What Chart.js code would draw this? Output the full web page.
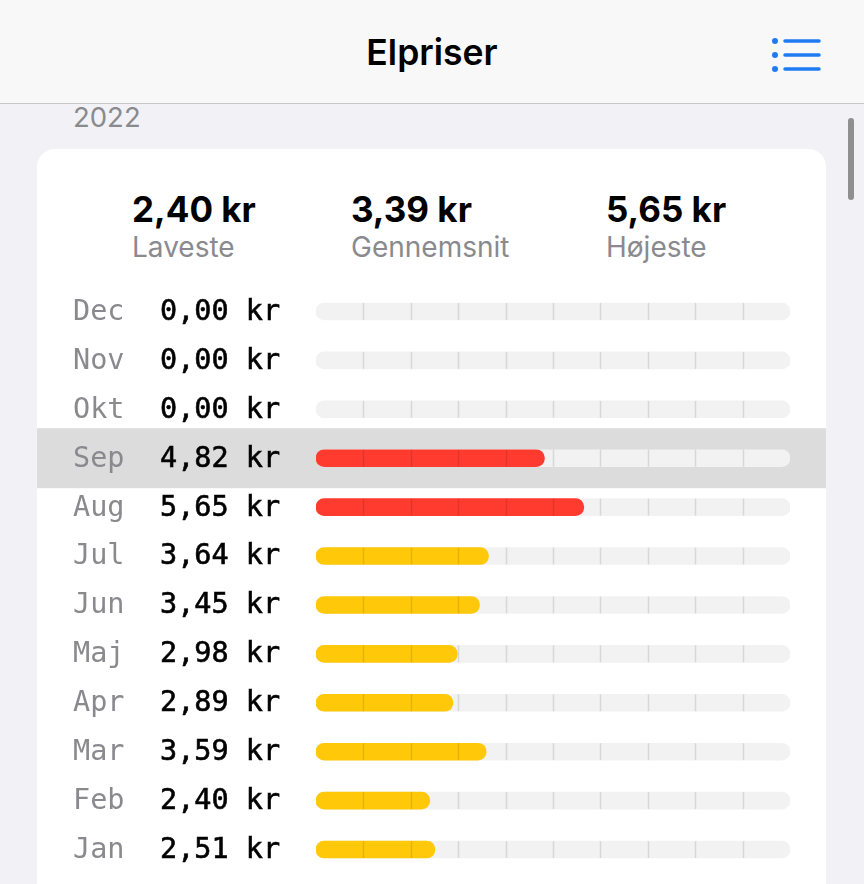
<!DOCTYPE html>
<html>
<head>
<meta charset="utf-8">
<script src="https://cdn.jsdelivr.net/npm/chart.js@4"></script>
<style>
  html, body { margin: 0; padding: 0; }
  body { width: 864px; height: 884px; background: #f2f2f6; position: relative; overflow: hidden; font-family: Inter, Roboto, "Noto Sans", sans-serif; }
  .header { position: absolute; left: 0; top: 0; width: 864px; height: 103px; background: #f8f8f8; border-bottom: 1px solid #c8c8cb; }
  .header h1 { margin: 0; position: absolute; left: 0; right: 0; top: 33px; text-align: center; font-size: 35.5px; font-weight: 600; color: #000; line-height: 40px; }
  .menu { position: absolute; left: 772px; top: 38px; }
  .year { position: absolute; left: 73px; top: 101px; font-size: 27.5px; color: #8a8a8e; line-height: 32px; }
  .scroll { position: absolute; left: 848px; top: 118px; width: 6px; height: 82px; border-radius: 3px; background: #8f8f92; }
  .card { position: absolute; left: 37px; top: 149px; width: 789px; height: 760px; background: #fff; border-radius: 18px; overflow: hidden; }
  .stat { position: absolute; top: 39px; }
  .stat .v { font-size: 35px; font-weight: 700; color: #000; line-height: 42px; }
  .stat .l { font-size: 28px; color: #8a8a8e; line-height: 34px; }
  canvas { position: absolute; left: 0; top: 131px; }
</style>
</head>
<body>
<div class="header">
  <h1>Elpriser</h1>
  <svg class="menu" width="50" height="34" viewBox="0 0 50 34">
    <g fill="#1f7bf2"><circle cx="3" cy="3" r="3"/><circle cx="3" cy="17" r="3"/><circle cx="3" cy="31" r="3"/></g>
    <g stroke="#1f7bf2" stroke-width="3.5" stroke-linecap="round"><line x1="13" y1="3" x2="47" y2="3"/><line x1="13" y1="17" x2="47" y2="17"/><line x1="13" y1="31" x2="47" y2="31"/></g>
  </svg>
</div>
<div class="year">2022</div>
<div class="scroll"></div>
<div class="card" id="card">
  <canvas id="bars" width="789" height="604"></canvas>
</div>
<script>
var months = ["Dec", "Nov", "Okt", "Sep", "Aug", "Jul", "Jun", "Maj", "Apr", "Mar", "Feb", "Jan"]
var prices = [0.00, 0.00, 0.00, 4.82, 5.65, 3.64, 3.45, 2.98, 2.89, 3.59, 2.40, 2.51]
var statLabels = ["Laveste", "Gennemsnit", "Højeste"]
var statValues = [2.40, 3.39, 5.65]
var scaleMax = 10
var highlighted = "Sep"

function kr(v) {
  return v.toFixed(2).replace(".", ",") + " kr"
}

// stats row at the top of the card
var statLeft = [95, 314, 569]
var card = document.getElementById("card")
statLabels.forEach(function (lbl, i) {
  var d = document.createElement("div")
  d.className = "stat"
  d.style.left = statLeft[i] + "px"
  d.innerHTML = '<div class="v">' + kr(statValues[i]) + '</div><div class="l">' + lbl + '</div>'
  card.appendChild(d)
})

// red above 4 kr, yellow below, nothing for empty months
var barColors = prices.map(function (p) {
  if (p === 0) return "rgba(0,0,0,0)"
  return p > 4 ? "#ff3b30" : "#ffc90a"
})
var track = months.map(function () { return scaleMax })

var rowsPlugin = {
  id: "rows",
  beforeDatasetsDraw: function (chart) {
    var ctx = chart.ctx
    var y = chart.scales.y
    var idx = months.indexOf(highlighted)
    if (idx >= 0) {
      var py = y.getPixelForValue(idx)
      ctx.save()
      ctx.fillStyle = "#dcdcdc"
      ctx.fillRect(0, py - 30, chart.width, 60)
      ctx.restore()
    }
  },
  afterDatasetsDraw: function (chart) {
    var ctx = chart.ctx
    var x = chart.scales.x
    var y = chart.scales.y
    var left = chart.chartArea.left
    ctx.save()
    months.forEach(function (m, i) {
      var py = y.getPixelForValue(i)
      // segment dividers
      ctx.strokeStyle = "rgba(0,0,0,0.11)"
      ctx.lineWidth = 1.5
      for (var k = 1; k < scaleMax; k++) {
        var px = Math.round(x.getPixelForValue(k)) + 0.5
        ctx.beginPath()
        ctx.moveTo(px, py - 8.5)
        ctx.lineTo(px, py + 8.5)
        ctx.stroke()
      }
      // labels
      ctx.font = "28.5px 'DejaVu Sans Mono'"
      ctx.textBaseline = "middle"
      ctx.fillStyle = "#8a8a8e"
      ctx.fillText(m, left - 243, py + 1)
      ctx.fillStyle = "#000"
      ctx.strokeStyle = "#000"
      ctx.lineWidth = 0.6
      ctx.fillText(kr(prices[i]), left - 156, py + 1)
      ctx.strokeText(kr(prices[i]), left - 156, py + 1)
    })
    ctx.restore()
  }
}

var chart = new Chart(document.getElementById("bars").getContext("2d"), {
  type: "bar",
  data: {
    labels: months,
    datasets: [{
      label: "Pris",
      data: prices,
      backgroundColor: barColors,
      borderRadius: 9,
      borderSkipped: false,
      barThickness: 17,
      grouped: false,
      order: 1
    }, {
      label: "Skala",
      data: track,
      backgroundColor: "#f2f2f2",
      borderRadius: 9,
      borderSkipped: false,
      barThickness: 17,
      grouped: false,
      order: 2
    }]
  },
  options: {
    indexAxis: "y",
    responsive: false,
    animation: false,
    layout: { padding: { left: 279, right: 36, top: 7, bottom: 10 } },
    scales: {
      x: { display: false, min: 0, max: scaleMax },
      y: { display: false }
    },
    plugins: { legend: { display: false }, tooltip: { enabled: false } }
  },
  plugins: [rowsPlugin]
})
</script>
</body>
</html>
